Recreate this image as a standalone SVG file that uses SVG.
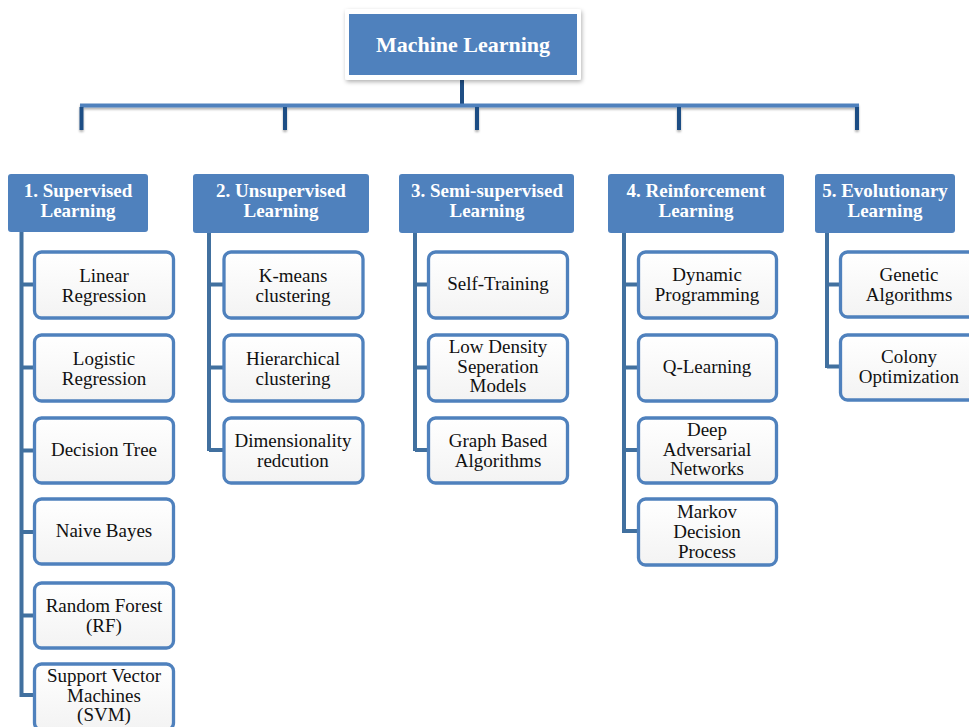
<svg xmlns="http://www.w3.org/2000/svg" width="969" height="727" viewBox="0 0 969 727">
<style>
.hdr{fill:#4f81bd;}
.hdrt{font-family:'Times New Roman','Liberation Serif','DejaVu Serif',serif;font-size:19px;font-weight:bold;fill:#ffffff;text-anchor:middle;}
.box{fill:url(#bg);stroke:#4f81bd;stroke-width:3.3;}
.bt{font-family:'Times New Roman','Liberation Serif','DejaVu Serif',serif;font-size:19px;fill:#111111;text-anchor:middle;}
.stem{fill:#1f4e84;}
.bar{fill:#4f81bd;}
.tree{stroke:#41709f;stroke-width:4;fill:none;}
</style>
<defs>
<linearGradient id="bg" x1="0" y1="0" x2="0" y2="1">
<stop offset="0" stop-color="#ffffff"/>
<stop offset="1" stop-color="#f3f3f3"/>
</linearGradient>
<filter id="sh" filterUnits="userSpaceOnUse" x="0" y="0" width="969" height="727">
<feDropShadow dx="1" dy="2" stdDeviation="2" flood-color="#000" flood-opacity="0.3"/>
</filter>
<filter id="ls" filterUnits="userSpaceOnUse" x="0" y="0" width="969" height="727">
<feDropShadow dx="0" dy="2" stdDeviation="1.2" flood-color="#000" flood-opacity="0.3"/>
</filter>
</defs>
<rect width="969" height="727" fill="#ffffff"/>

<g id="connectors">
<rect class="stem" x="460" y="80" width="4" height="25"/>
<g filter="url(#ls)">
<rect class="bar" x="80" y="103.5" width="779" height="4"/>
<rect class="stem" x="79.5" y="107" width="4" height="23"/>
<rect class="stem" x="283" y="107" width="4" height="23"/>
<rect class="stem" x="475" y="107" width="4" height="23"/>
<rect class="stem" x="677" y="107" width="4" height="23"/>
<rect class="stem" x="855" y="107" width="4" height="23"/>
</g>
<path class="tree" d="M21.5 231 V697 M21.5 284.5 H33 M21.5 367.5 H33 M21.5 450.5 H33 M21.5 532 H33 M21.5 615.5 H33 M21.5 695 H33"/>
<path class="tree" d="M209 233 V451 M209 284.5 H223 M209 367.5 H223 M209 450 H223"/>
<path class="tree" d="M415 233 V451 M415 284.5 H427 M415 367.5 H427 M415 450 H427"/>
<path class="tree" d="M624 233 V533 M624 284.5 H637 M624 367.5 H637 M624 450 H637 M624 531 H637"/>
<path class="tree" d="M827 233 V368 M827 284.5 H839 M827 366.5 H839"/>
</g>

<g id="root">
<rect x="345" y="9" width="236" height="71" fill="#ffffff" filter="url(#sh)" rx="2"/>
<rect x="349" y="14" width="228" height="61" fill="#4f81bd"/>
<text x="463" y="52" class="hdrt" style="font-size:22px">Machine Learning</text>
</g>

<g id="supervised">
<rect class="hdr" x="8" y="174" width="140" height="58" rx="3"/>
<text class="hdrt" x="78" y="197">1. Supervised</text>
<text class="hdrt" x="78" y="217">Learning</text>
</g>
<g id="unsupervised">
<rect class="hdr" x="193" y="174" width="176" height="59" rx="3"/>
<text class="hdrt" x="281" y="197">2. Unsupervised</text>
<text class="hdrt" x="281" y="217">Learning</text>
</g>
<g id="semisupervised">
<rect class="hdr" x="399" y="174" width="175" height="59" rx="3"/>
<text class="hdrt" x="487" y="197">3. Semi-supervised</text>
<text class="hdrt" x="487" y="217">Learning</text>
</g>
<g id="reinforcement">
<rect class="hdr" x="608" y="174" width="176" height="59" rx="3"/>
<text class="hdrt" x="696" y="197">4. Reinforcement</text>
<text class="hdrt" x="696" y="217">Learning</text>
</g>
<g id="evolutionary">
<rect class="hdr" x="815" y="174" width="140" height="59" rx="3"/>
<text class="hdrt" x="885" y="197">5. Evolutionary</text>
<text class="hdrt" x="885" y="217">Learning</text>
</g>

<g id="linear-regression">
<rect class="box" x="34.5" y="252" width="139" height="66" rx="7"/>
<text class="bt" x="104" y="282">Linear</text>
<text class="bt" x="104" y="302">Regression</text>
</g>
<g id="logistic-regression">
<rect class="box" x="34.5" y="335" width="139" height="66" rx="7"/>
<text class="bt" x="104" y="365">Logistic</text>
<text class="bt" x="104" y="385">Regression</text>
</g>
<g id="decision-tree">
<rect class="box" x="34.5" y="418" width="139" height="65" rx="7"/>
<text class="bt" x="104" y="456">Decision Tree</text>
</g>
<g id="naive-bayes">
<rect class="box" x="34.5" y="499" width="139" height="65" rx="7"/>
<text class="bt" x="104" y="537">Naive Bayes</text>
</g>
<g id="random-forest">
<rect class="box" x="34.5" y="583" width="139" height="65" rx="7"/>
<text class="bt" x="104" y="612">Random Forest</text>
<text class="bt" x="104" y="632">(RF)</text>
</g>
<g id="svm">
<rect class="box" x="34.5" y="664" width="139" height="66" rx="7"/>
<text class="bt" x="104" y="682">Support Vector</text>
<text class="bt" x="104" y="702">Machines</text>
<text class="bt" x="104" y="721">(SVM)</text>
</g>

<g id="kmeans">
<rect class="box" x="224" y="252" width="139" height="66" rx="7"/>
<text class="bt" x="293" y="282">K-means</text>
<text class="bt" x="293" y="302">clustering</text>
</g>
<g id="hierarchical">
<rect class="box" x="224" y="335" width="139" height="66" rx="7"/>
<text class="bt" x="293" y="365">Hierarchical</text>
<text class="bt" x="293" y="385">clustering</text>
</g>
<g id="dimensionality">
<rect class="box" x="224" y="418" width="139" height="65" rx="7"/>
<text class="bt" x="293" y="447">Dimensionality</text>
<text class="bt" x="293" y="467">redcution</text>
</g>

<g id="self-training">
<rect class="box" x="428.5" y="252" width="139" height="66" rx="7"/>
<text class="bt" x="498" y="290">Self-Training</text>
</g>
<g id="low-density">
<rect class="box" x="428.5" y="335" width="139" height="66" rx="7"/>
<text class="bt" x="498" y="353">Low Density</text>
<text class="bt" x="498" y="373">Seperation</text>
<text class="bt" x="498" y="392">Models</text>
</g>
<g id="graph-based">
<rect class="box" x="428.5" y="418" width="139" height="65" rx="7"/>
<text class="bt" x="498" y="447">Graph Based</text>
<text class="bt" x="498" y="467">Algorithms</text>
</g>

<g id="dynamic-programming">
<rect class="box" x="638.5" y="252" width="138" height="66" rx="7"/>
<text class="bt" x="707" y="281">Dynamic</text>
<text class="bt" x="707" y="301">Programming</text>
</g>
<g id="q-learning">
<rect class="box" x="638.5" y="335" width="138" height="66" rx="7"/>
<text class="bt" x="707" y="373">Q-Learning</text>
</g>
<g id="deep-adversarial">
<rect class="box" x="638.5" y="418" width="138" height="65" rx="7"/>
<text class="bt" x="707" y="436">Deep</text>
<text class="bt" x="707" y="456">Adversarial</text>
<text class="bt" x="707" y="475">Networks</text>
</g>
<g id="markov">
<rect class="box" x="638.5" y="499" width="138" height="66" rx="7"/>
<text class="bt" x="707" y="518">Markov</text>
<text class="bt" x="707" y="538">Decision</text>
<text class="bt" x="707" y="558">Process</text>
</g>

<g id="genetic">
<rect class="box" x="840.5" y="252" width="140" height="65" rx="7"/>
<text class="bt" x="909" y="281">Genetic</text>
<text class="bt" x="909" y="301">Algorithms</text>
</g>
<g id="colony">
<rect class="box" x="840.5" y="335" width="140" height="65" rx="7"/>
<text class="bt" x="909" y="363">Colony</text>
<text class="bt" x="909" y="383">Optimization</text>
</g>
</svg>
